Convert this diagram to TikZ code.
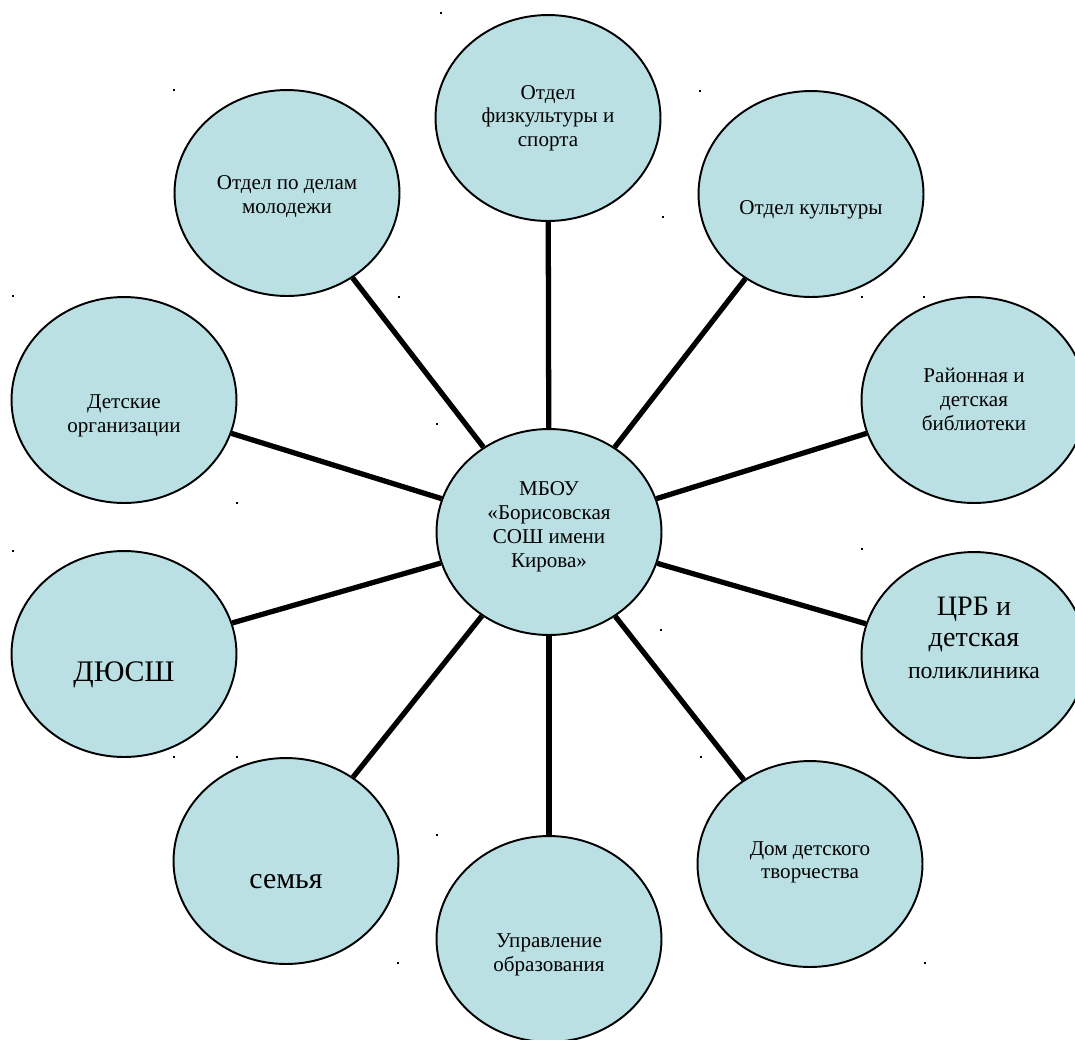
\documentclass[tikz,border=0pt]{standalone}
\usepackage{fontspec}
\setmainfont{Liberation Serif}
\usetikzlibrary{shapes.geometric}
\definecolor{bubblefill}{RGB}{186,224,227}
\newcommand{\bubbletext}[2][0pt]{\raisebox{#1}[0pt][0pt]{\begin{tabular}{@{}c@{}}#2\end{tabular}}}

\begin{document}
\begin{tikzpicture}[x=0.02cm,y=-0.02cm,
  bubble/.style={ellipse,draw,line width=1.1pt,fill=bubblefill,minimum width=4.5cm,minimum height=4.12cm,inner sep=0pt,font=\fontsize{12}{13.5}\selectfont},
  link/.style={line width=3pt}]
\useasboundingbox (0,0) rectangle (1075,1039);

\node (mbou) at (549,532) [bubble] {\bubbletext[0pt]{МБОУ\\«Борисовская\\СОШ имени\\Кирова»}};

\node (sport) at (548,118) [bubble] {\bubbletext[-3pt]{Отдел\\физкультуры и\\спорта}};
\node (youth) at (287,193) [bubble] {\bubbletext[-5pt]{Отдел по делам\\молодежи}};
\node (culture) at (811,194) [bubble] {\bubbletext[-12pt]{Отдел культуры}};
\node (kids) at (124,400) [bubble] {\bubbletext[-12pt]{Детские\\организации}};
\node (library) at (974,400) [bubble] {\bubbletext[-4pt]{Районная и\\детская\\библиотеки}};
\node (dyussh) at (124,654) [bubble,font=\fontsize{17}{19}\selectfont] {\bubbletext[-16pt]{ДЮСШ}};
\node (hospital) at (974,655) [bubble,font=\fontsize{16}{18}\selectfont] {\bubbletext[4pt]{ЦРБ и\\детская\\\fontsize{13.5}{16}\selectfont поликлиника}};
\node (family) at (286,861) [bubble,font=\fontsize{17}{19}\selectfont] {\bubbletext[-16pt]{семья}};
\node (creative) at (810,864) [bubble] {\bubbletext[-2pt]{Дом детского\\творчества}};
\node (education) at (549,939) [bubble] {\bubbletext[-12pt]{Управление\\образования}};

\draw[link] (mbou) -- (sport);
\draw[link] (mbou) -- (youth);
\draw[link] (mbou) -- (culture);
\draw[link] (mbou) -- (kids);
\draw[link] (mbou) -- (library);
\draw[link] (mbou) -- (dyussh);
\draw[link] (mbou) -- (hospital);
\draw[link] (mbou) -- (family);
\draw[link] (mbou) -- (creative);
\draw[link] (mbou) -- (education);

% stray marks
\foreach \dx/\dy in {441/13,174/90,700/91,663/217,13/296,399/297,862/297,924/297,437/424,237/503,13/551,862/549,661/630,174/757,237/757,701/757,437/835,398/963,925/963}
  \fill (\dx-1.2,\dy-1.2) rectangle (\dx+1.2,\dy+1.2);

\end{tikzpicture}
\end{document}
